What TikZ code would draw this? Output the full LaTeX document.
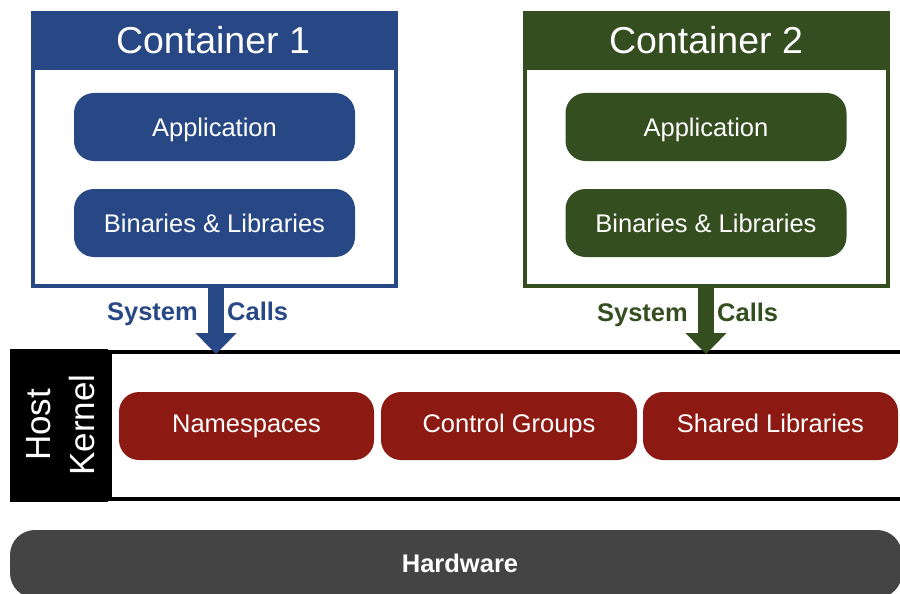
\documentclass[tikz,border=0pt]{standalone}
\usepackage{fontspec}
\setmainfont{Liberation Sans}
\usetikzlibrary{arrows.meta}
\definecolor{cblue}{HTML}{284885}
\definecolor{cgreen}{HTML}{344E1F}
\definecolor{cred}{HTML}{8C1A13}
\definecolor{cgray}{HTML}{444444}
\begin{document}
\begin{tikzpicture}[x=1pt,y=-1pt,
  captext/.style={text height=18.3pt, text depth=0pt},
  frame/.style={draw=#1, line width=4pt, minimum width=363pt, minimum height=273pt, inner sep=0pt},
  header/.style={fill=#1, minimum width=367pt, minimum height=59pt, inner sep=0pt},
  titletext/.style={text height=26.9pt, text depth=0pt, text=white, inner sep=0pt, font=\fontsize{37.5}{44}\selectfont},
  innerbox/.style={fill=#1, rounded corners=20pt, minimum width=281pt, minimum height=68pt, inner sep=0pt, captext, text=white, font=\fontsize{25.5}{30}\selectfont},
  redbox/.style={fill=cred, rounded corners=20pt, minimum width=255pt, minimum height=68pt, inner sep=0pt, text height=18.3pt, text depth=6pt, text=white, font=\fontsize{25.5}{30}\selectfont},
  callarrow/.style={draw=#1, line width=16pt, -{Triangle[width=40pt,length=21pt]}},
  calltext/.style={captext, text=#1, font=\bfseries\fontsize{25.5}{30}\selectfont, inner sep=0pt}
]
\useasboundingbox (0,0) rectangle (900,594);

% Container 1
\node[frame=cblue] (c1) at (214.5,149.5) {};
\node[header=cblue] (h1) at (214.5,40.5) {};
\node[titletext] (t1) at (213,40) {Container 1};
\node[innerbox=cblue] (app1) at (214.5,127) {Application};
\node[innerbox=cblue] (bin1) at (214.5,223) {Binaries \& Libraries};

% Container 2
\node[frame=cgreen] (c2) at (706,149.5) {};
\node[header=cgreen] (h2) at (706,40.5) {};
\node[titletext] (t2) at (706,40) {Container 2};
\node[innerbox=cgreen] (app2) at (706,127) {Application};
\node[innerbox=cgreen] (bin2) at (706,223) {Binaries \& Libraries};

% Host kernel
\node[fill=black, minimum width=98pt, minimum height=153pt, inner sep=0pt] (hk) at (59,425.5) {};
\node[rotate=90, text=white, align=center, font=\fontsize{35}{44}\selectfont] (hkt) at (61,425) {Host\\Kernel};
\node[draw=black, fill=white, line width=3.5pt, minimum width=800pt, minimum height=147pt, inner sep=0pt, anchor=west] (kern) at (108,425.5) {};

\node[redbox] (ns) at (246.5,426) {Namespaces};
\node[redbox, minimum width=256pt] (cg) at (509,426) {Control Groups};
\node[redbox] (sl) at (770.5,426) {Shared Libraries};

% System call arrows
\coordinate (a1s) at (216,288);
\coordinate (a1e) at (216,354);
\coordinate (a2s) at (706,288);
\coordinate (a2e) at (706,354);
\draw[callarrow=cblue] (a1s) -- (a1e);
\draw[callarrow=cgreen] (a2s) -- (a2e);
\node[calltext=cblue, anchor=east] (s1) at (198,311) {System};
\node[calltext=cblue, anchor=west] (k1) at (227,311) {Calls};
\node[calltext=cgreen, anchor=east] (s2) at (688,312.5) {System};
\node[calltext=cgreen, anchor=west] (k2) at (717,312.5) {Calls};

% Hardware
\node[fill=cgray, rounded corners=25pt, minimum width=892pt, minimum height=68pt, inner sep=0pt] (hw) at (456,564) {};
\node[captext, text=white, inner sep=0pt, font=\bfseries\fontsize{25.5}{30}\selectfont] (hwt) at (460,563) {Hardware};
\end{tikzpicture}
\end{document}
